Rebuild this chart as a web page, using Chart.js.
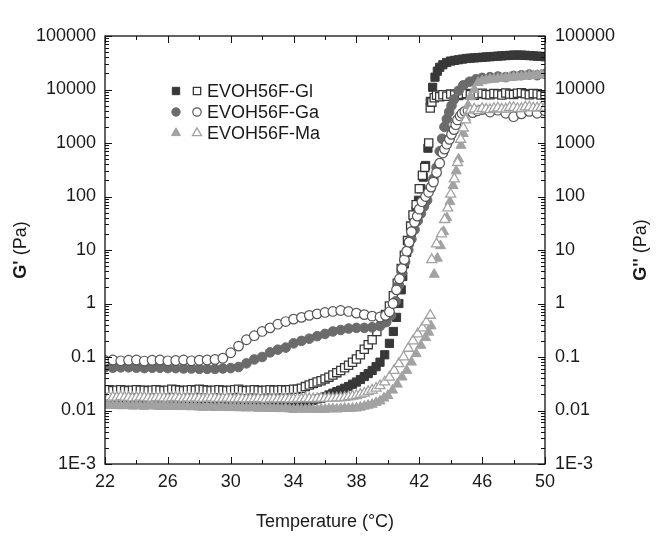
<!DOCTYPE html>
<html>
<head>
<meta charset="utf-8">
<title>EVOH56F rheology</title>
<script src="https://cdn.jsdelivr.net/npm/chart.js"></script>
<style>
  html, body { margin: 0; padding: 0; background: #fff; }
  #wrap { width: 657px; height: 538px; }
</style>
</head>
<body>
<div id="wrap"><canvas id="rheo" width="657" height="538"></canvas></div>
<script>
// --- data (temperature in °C, moduli in Pa) ---
const seriesNames = ['EVOH56F-Gl', 'EVOH56F-Ga', 'EVOH56F-Ma'];

// EVOH56F-Gl, G' (filled squares)
const glTempG1 = [22,22.25,22.5,22.75,23,23.25,23.5,23.75,24,24.25,24.5,24.75,25,25.25,25.5,25.75,26,26.25,26.5,26.75,
  27,27.25,27.5,27.75,28,28.25,28.5,28.75,29,29.25,29.5,29.75,30,30.25,30.5,30.75,31,31.25,31.5,31.75,
  32,32.25,32.5,32.75,33,33.25,33.5,33.75,34,
  34.25,34.5,34.75,35,35.25,35.5,35.75,36,36.25,36.5,36.75,37,37.25,37.5,37.75,38,38.25,38.5,38.75,39,39.25,39.5,
  39.8,40.1,40.35,40.55,40.7,40.85,40.95,41.05,41.2,41.35,41.5,41.65,41.8,41.95,42.1,42.25,42.4,42.55,42.7,42.85,
  43,43.15,43.3,43.5,43.75,
  44,44.25,44.5,44.75,45,45.25,45.5,45.75,46,46.25,46.5,46.75,47,47.25,47.5,47.75,48,48.25,48.5,48.75,49,49.25,49.5,49.75,50];
const glG1 = [0.0134,0.0136,0.0133,0.0134,0.0131,0.0134,0.0132,0.0129,0.0133,0.0131,
  0.0128,0.0131,0.0133,0.0129,0.0128,0.0131,0.0128,0.0127,0.0129,0.0126,
  0.0128,0.0126,0.0125,0.0127,0.0124,0.0123,0.0125,0.0124,0.0122,0.0124,
  0.0123,0.0121,0.0123,0.0122,0.012,0.0121,0.0119,0.0121,0.012,0.0118,
  0.012,0.0118,0.0119,0.0117,0.0118,0.0116,0.0118,0.0114,0.0112,
  0.012,0.0128,0.0136,0.0145,0.0155,0.0165,0.017,0.018,0.0195,0.021,0.0225,0.024,0.026,0.028,0.031,0.034,0.038,0.043,0.049,0.056,0.066,0.08,
  0.11,0.18,0.3,0.55,1.0,1.8,3.2,5.5,9,14,22,35,55,85,140,230,380,800,6000,11000,
  17000,22000,26000,29000,32000,
  34000,35000,36000,37000,38000,38500,39000,39500,40000,40500,41000,41500,42000,42500,43000,43500,44000,44000,44000,43500,43000,42500,42000,41500,41000];

// EVOH56F-Gl, G'' (open squares)
const glTempG2 = [22,22.25,22.5,22.75,23,23.25,23.5,23.75,24,24.25,24.5,24.75,25,25.25,25.5,25.75,26,26.25,26.5,26.75,
  27,27.25,27.5,27.75,28,28.25,28.5,28.75,29,29.25,29.5,29.75,30,30.25,30.5,30.75,31,31.25,31.5,31.75,
  32,32.25,32.5,32.75,33,33.25,33.5,33.75,34,
  34.25,34.5,34.75,35,35.25,35.5,35.75,36,36.25,36.5,36.75,37,37.25,37.5,37.75,38,38.25,38.5,38.75,39,
  39.3,39.6,39.85,40.1,40.35,40.6,40.85,41.05,41.25,41.45,41.6,41.8,42,42.2,42.35,42.6,42.7,42.8,42.95,43.1,
  43.3,43.5,43.75,
  44,44.25,44.5,44.75,45,45.25,45.5,45.75,46,46.25,46.5,46.75,47,47.25,47.5,47.75,48,48.25,48.5,48.75,49,49.25,49.5,49.75,50];
const glG2 = [0.024,0.0245,0.0235,0.024,0.0245,0.024,0.0235,0.024,0.0245,0.024,
  0.024,0.0235,0.024,0.0245,0.024,0.0235,0.024,0.025,0.0245,0.024,
  0.0235,0.024,0.0245,0.024,0.025,0.0245,0.024,0.0235,0.024,0.0245,
  0.024,0.0235,0.024,0.0245,0.025,0.024,0.0235,0.024,0.0245,0.024,
  0.0235,0.024,0.0245,0.024,0.024,0.0245,0.024,0.0245,0.025,
  0.025,0.026,0.028,0.03,0.032,0.034,0.036,0.039,0.042,0.046,0.051,0.056,0.063,0.07,0.08,0.092,0.11,0.14,0.17,0.21,
  0.3,0.44,0.62,0.9,1.4,2.4,4.5,8,15,28,45,70,140,250,350,1000,4500,5800,7000,7800,
  7300,8000,7500,
  8200,7900,7700,8100,8400,8000,7800,8300,8500,8100,8000,8400,8300,7900,8600,8200,8100,8500,8700,8300,8000,8400,8300,7900,7800];

// EVOH56F-Ga, G' (filled circles)
const gaTempG1 = [22,22.5,23,23.5,24,24.5,25,25.5,26,26.5,27,27.5,28,28.5,29,29.5,30,
  30.5,31,31.5,32,32.5,33,33.5,34,34.5,35,35.5,36,36.5,37,37.5,38,38.5,39,39.5,
  39.9,40.2,40.5,40.7,40.9,41.1,41.3,41.5,41.7,41.9,42.1,42.3,42.5,42.7,42.9,43.1,43.3,43.45,43.6,43.75,
  43.9,44.05,44.2,44.5,44.8,45.2,45.6,46,46.5,47,47.5,48,48.5,49,49.5,50];
const gaG1 = [0.064,0.063,0.064,0.064,0.063,0.062,0.063,0.063,0.062,0.062,0.061,0.061,0.06,0.06,0.06,0.061,0.062,
  0.065,0.076,0.09,0.1,0.122,0.137,0.15,0.18,0.2,0.22,0.245,0.27,0.3,0.32,0.34,0.35,0.35,0.36,0.38,
  0.45,0.6,1.1,2.2,3.8,6,10,16,24,35,48,65,85,140,215,350,700,1200,2000,2800,
  3800,5000,6500,9500,12000,14000,15500,16500,17000,17500,17000,18000,18500,19000,18500,19500];

// EVOH56F-Ga, G'' (open circles)
const gaTempG2 = [22,22.5,23,23.5,24,24.5,25,25.5,26,26.5,27,27.5,28,28.5,29,
  29.5,30,30.5,31,31.5,32,32.5,33,33.5,34,34.5,35,35.5,36,36.5,37,37.5,38,38.5,39,39.5,
  39.85,40.1,40.33,40.55,40.74,40.9,41.05,41.2,41.35,41.5,41.7,41.87,42,42.17,42.4,42.59,42.75,42.9,43.1,43.3,
  43.5,43.61,43.75,43.92,44.05,44.21,44.32,44.43,44.6,44.72,44.9,45.1,45.4,45.7,46,46.5,47,47.5,48,48.5,
  49,49.5,50];
const gaG2 = [0.086,0.088,0.085,0.087,0.088,0.084,0.087,0.088,0.085,0.086,0.088,0.085,0.087,0.088,0.09,
  0.095,0.12,0.16,0.21,0.25,0.3,0.35,0.41,0.46,0.51,0.55,0.6,0.64,0.68,0.71,0.74,0.71,0.66,0.62,0.58,0.56,
  0.6,0.7,1.0,1.8,2.9,4.5,6.6,9.5,14,22,33,43,58,80,100,120,150,186,280,420,
  650,770,950,1170,1450,1780,2200,2700,3200,3560,3900,4000,3700,4000,4200,3800,4100,3600,3100,3500,
  3900,3600,4000];

// EVOH56F-Ma, G' (filled triangles)
const maTempG1 = [22,22.25,22.5,22.75,23,23.25,23.5,23.75,24,24.25,24.5,24.75,25,25.25,25.5,25.75,26,26.25,26.5,26.75,
  27,27.25,27.5,27.75,28,28.25,28.5,28.75,29,29.25,29.5,29.75,30,30.25,30.5,30.75,31,31.25,31.5,31.75,
  32,32.25,32.5,32.75,33,33.25,33.5,33.75,34,34.25,34.5,34.75,35,35.25,35.5,35.75,36,36.25,36.5,36.75,
  37,37.25,37.5,37.75,38,
  38.25,38.5,38.75,39,39.25,39.5,39.75,40,40.3,40.6,40.9,41.2,41.5,41.8,42.1,42.4,42.6,42.75,
  42.95,43.15,43.35,43.55,43.75,43.95,44.15,44.35,44.5,44.65,44.8,44.95,45.1,45.25,45.5,45.75,
  46,46.25,46.5,46.75,47,47.25,47.5,47.75,48,48.25,48.5,48.75,49,49.25,49.5,49.75,50];
const maG1 = [0.0125,0.0127,0.0124,0.0125,0.0122,0.0125,0.0123,0.0121,0.0124,0.0122,
  0.012,0.0122,0.0124,0.0121,0.012,0.0122,0.012,0.0119,0.0121,0.0118,
  0.012,0.0118,0.0117,0.0119,0.0116,0.0115,0.0117,0.0116,0.0114,0.0116,
  0.0115,0.0113,0.0115,0.0114,0.0112,0.0113,0.0111,0.0113,0.0112,0.011,
  0.0112,0.011,0.0111,0.0109,0.011,0.0108,0.011,0.0107,0.0105,0.0107,
  0.0106,0.0105,0.0107,0.0105,0.0104,0.0106,0.0105,0.0107,0.0108,0.0106,
  0.0108,0.011,0.0109,0.011,0.0111,
  0.0115,0.012,0.0125,0.013,0.014,0.015,0.017,0.019,0.024,0.031,0.042,0.056,0.08,0.115,0.165,0.23,0.29,0.38,
  3.5,7,12,22,40,80,160,300,500,900,1500,3000,5000,7300,10000,13500,
  14500,15000,15500,15500,16000,16200,16500,16800,17000,17200,17500,17800,18000,18200,18500,18800,19000];

// EVOH56F-Ma, G'' (open triangles)
const maTempG2 = [22,22.25,22.5,22.75,23,23.25,23.5,23.75,24,24.25,24.5,24.75,25,25.25,25.5,25.75,26,26.25,26.5,26.75,
  27,27.25,27.5,27.75,28,28.25,28.5,28.75,29,29.25,29.5,29.75,30,30.25,30.5,30.75,31,31.25,31.5,31.75,
  32,32.25,32.5,32.75,33,33.25,33.5,33.75,34,34.25,34.5,34.75,35,35.25,35.5,35.75,36,36.25,36.5,36.75,37,
  37.25,37.5,37.75,38,38.25,38.5,38.75,39,39.25,39.5,39.8,40.1,40.4,40.7,41,41.3,41.6,41.9,42.2,42.45,42.7,
  42.79,43.1,43.41,43.61,43.81,44,44.23,44.43,44.63,44.8,44.95,45.25,45.5,45.75,
  46,46.25,46.5,46.75,47,47.25,47.5,47.75,48,48.25,48.5,48.75,49,49.25,49.5,49.75,50];
const maG2 = [0.0175,0.018,0.0177,0.0175,0.018,0.0176,0.0175,0.0172,0.0175,0.0177,
  0.0175,0.0172,0.017,0.0174,0.0175,0.0172,0.017,0.0173,0.0175,0.0172,
  0.017,0.0172,0.0169,0.0171,0.017,0.0168,0.017,0.0172,0.0169,0.0167,
  0.0168,0.017,0.0167,0.0165,0.0168,0.0166,0.0164,0.0166,0.0165,0.0167,
  0.0165,0.0163,0.0165,0.0167,0.0164,0.0165,0.0166,0.0164,0.0165,0.0167,
  0.0165,0.0168,0.0166,0.0165,0.0167,0.0169,0.0168,0.017,0.0169,0.0171,0.0172,
  0.0175,0.018,0.0185,0.019,0.02,0.021,0.0225,0.024,0.026,0.029,0.034,0.042,0.056,0.075,0.1,0.145,0.2,0.27,0.35,0.45,0.6,
  6.6,13,20,37,61,110,213,430,1170,1900,2700,4100,4300,4000,
  4400,4300,4200,4400,4500,4300,4300,4600,4600,4400,4400,4700,4700,4500,4500,4600,4600];

// axis ticks
const xTickValues = [22, 26, 30, 34, 38, 42, 46, 50];
const xMinorTicks = [24, 28, 32, 36, 40, 44, 48];
const yTickValues = [1e-3, 0.01, 0.1, 1, 10, 100, 1000, 10000, 100000];
const yTickLabels = ['1E-3', '0.01', '0.1', '1', '10', '100', '1000', '10000', '100000'];

const FONT = "'Liberation Sans', Arial, sans-serif";
const FONT_SIZE = 18;

function pts(temps, vals) {
    if (temps.length !== vals.length) console.warn('length mismatch', temps.length, vals.length);
    return temps.map((t, i) => ({ x: t, y: vals[i] }));
}

// marker styles, shared by the plot and the hand-drawn legend
const styles = {
    glG1: { pointStyle: 'rect', radius: 5.8, fill: '#383838', stroke: '#383838', width: 1 },
    glG2: { pointStyle: 'rect', radius: 5.8, fill: '#ffffff', stroke: '#383838', width: 1.3 },
    gaG1: { pointStyle: 'circle', radius: 4.8, fill: '#6b6b6b', stroke: '#6b6b6b', width: 1 },
    gaG2: { pointStyle: 'circle', radius: 4.8, fill: '#ffffff', stroke: '#555555', width: 1.2 },
    maG1: { pointStyle: 'triangle', radius: 5.8, fill: '#a2a2a2', stroke: '#a2a2a2', width: 1 },
    maG2: { pointStyle: 'triangle', radius: 5.8, fill: '#ffffff', stroke: '#a2a2a2', width: 1.3 }
};

function makeSet(label, data, st, order) {
    return {
        label: label,
        data: data,
        showLine: false,
        pointStyle: st.pointStyle,
        pointRadius: st.radius,
        pointBackgroundColor: st.fill,
        pointBorderColor: st.stroke,
        pointBorderWidth: st.width,
        order: order
    };
}

// lower order = drawn on top
const datasets = [
    makeSet(seriesNames[0] + " G'", pts(glTempG1, glG1), styles.glG1, 6),
    makeSet(seriesNames[0] + " G''", pts(glTempG2, glG2), styles.glG2, 5),
    makeSet(seriesNames[1] + " G'", pts(gaTempG1, gaG1), styles.gaG1, 4),
    makeSet(seriesNames[1] + " G''", pts(gaTempG2, gaG2), styles.gaG2, 3),
    makeSet(seriesNames[2] + " G'", pts(maTempG1, maG1), styles.maG1, 2),
    makeSet(seriesNames[2] + " G''", pts(maTempG2, maG2), styles.maG2, 1)
];

// frame, inward tick marks, legend and the y titles
const decorations = {
    id: 'decorations',
    afterDraw(chart) {
        const { ctx, chartArea: a, scales } = chart;
        const xs = scales.x, ys = scales.y;
        ctx.save();

        ctx.strokeStyle = '#111';
        ctx.lineWidth = 1.3;
        ctx.strokeRect(a.left, a.top, a.right - a.left, a.bottom - a.top);

        ctx.beginPath();
        const xTick = (v, len) => {
            const px = Math.round(xs.getPixelForValue(v)) + 0.5;
            ctx.moveTo(px, a.bottom); ctx.lineTo(px, a.bottom - len);
            ctx.moveTo(px, a.top); ctx.lineTo(px, a.top + len);
        };
        const yTick = (v, len) => {
            const py = Math.round(ys.getPixelForValue(v)) + 0.5;
            ctx.moveTo(a.left, py); ctx.lineTo(a.left + len, py);
            ctx.moveTo(a.right, py); ctx.lineTo(a.right - len, py);
        };
        xTickValues.forEach(v => xTick(v, 7));
        xMinorTicks.forEach(v => xTick(v, 4));
        yTickValues.forEach(v => yTick(v, 7));
        for (let i = 0; i < yTickValues.length - 1; i++) {
            for (let k = 2; k <= 9; k++) yTick(yTickValues[i] * k, 4);
        }
        ctx.lineWidth = 1;
        ctx.stroke();

        // legend: filled (G') and open (G'') marker, then the sample name
        const rows = [['glG1', 'glG2'], ['gaG1', 'gaG2'], ['maG1', 'maG2']];
        const rowY = [91, 112, 133];
        rows.forEach((pair, i) => {
            [176, 197].forEach((lx, j) => {
                const st = styles[pair[j]];
                ctx.fillStyle = st.fill;
                ctx.strokeStyle = st.stroke;
                ctx.lineWidth = st.width;
                Chart.helpers.drawPoint(ctx, { pointStyle: st.pointStyle, radius: st.radius - 0.6, borderWidth: st.width, rotation: 0 }, lx, rowY[i]);
            });
            ctx.fillStyle = '#1a1a1a';
            ctx.font = FONT_SIZE + 'px ' + FONT;
            ctx.textAlign = 'left';
            ctx.textBaseline = 'middle';
            ctx.fillText(seriesNames[i], 207, rowY[i] + 1);
        });

        // rotated y titles with a bold symbol
        const midY = (a.top + a.bottom) / 2;
        const title = (x, sym) => {
            ctx.save();
            ctx.translate(x, midY);
            ctx.rotate(-Math.PI / 2);
            ctx.fillStyle = '#1a1a1a';
            ctx.textBaseline = 'middle';
            ctx.textAlign = 'left';
            ctx.font = 'bold ' + FONT_SIZE + 'px ' + FONT;
            const w1 = ctx.measureText(sym).width;
            ctx.font = FONT_SIZE + 'px ' + FONT;
            const w2 = ctx.measureText(' (Pa)').width;
            const sx = -(w1 + w2) / 2;
            ctx.font = 'bold ' + FONT_SIZE + 'px ' + FONT;
            ctx.fillText(sym, sx, 0);
            ctx.font = FONT_SIZE + 'px ' + FONT;
            ctx.fillText(' (Pa)', sx + w1, 0);
            ctx.restore();
        };
        title(21, "G'");
        title(641, "G''");

        ctx.restore();
    }
};

const logAxis = (position, width, pad) => ({
    type: 'logarithmic',
    position: position,
    min: 1e-3,
    max: 1e5,
    grid: { display: false, drawTicks: false },
    border: { display: false },
    afterBuildTicks: s => { s.ticks = yTickValues.map(v => ({ value: v })); },
    afterFit: s => { s.width = width; },
    ticks: {
        padding: pad,
        color: '#1a1a1a',
        font: { family: FONT, size: FONT_SIZE },
        callback: (v) => {
            const i = yTickValues.findIndex(t => Math.abs(Math.log10(t) - Math.log10(v)) < 1e-6);
            return i >= 0 ? yTickLabels[i] : '';
        }
    }
});

new Chart(document.getElementById('rheo'), {
    type: 'scatter',
    data: { datasets: datasets },
    plugins: [decorations],
    options: {
        responsive: false,
        animation: false,
        events: [],
        layout: { padding: { top: 36, left: 0, right: 0, bottom: 0 }, autoPadding: false },
        plugins: {
            legend: { display: false },
            tooltip: { enabled: false }
        },
        scales: {
            x: {
                type: 'linear',
                min: 22,
                max: 50,
                grid: { display: false, drawTicks: false },
                border: { display: false },
                afterBuildTicks: s => { s.ticks = xTickValues.map(v => ({ value: v })); },
                afterFit: s => { s.height = 74; },
                ticks: {
                    padding: 7,
                    color: '#1a1a1a',
                    font: { family: FONT, size: FONT_SIZE },
                    maxRotation: 0
                },
                title: {
                    display: true,
                    text: 'Temperature (°C)',
                    color: '#1a1a1a',
                    font: { family: FONT, size: FONT_SIZE },
                    padding: { top: 4, bottom: 5 }
                }
            },
            y: logAxis('left', 105, 9),
            y2: logAxis('right', 112, 10)
        }
    }
});
</script>
</body>
</html>
